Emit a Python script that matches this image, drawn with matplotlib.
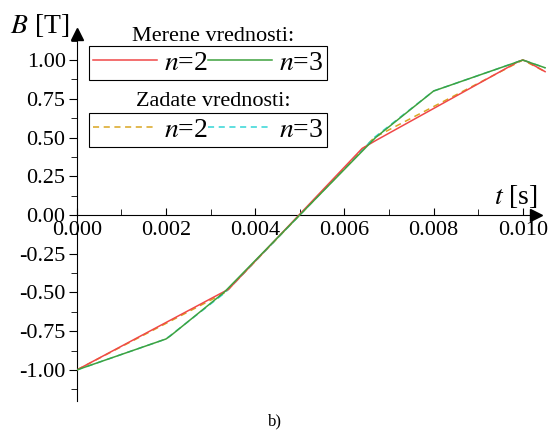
import matplotlib
matplotlib.use("Agg")
import matplotlib.pyplot as plt
from matplotlib.lines import Line2D
from matplotlib.ticker import MultipleLocator, FormatStrFormatter

plt.rcParams['font.family'] = ['Liberation Serif', 'DejaVu Serif']
plt.rcParams['mathtext.fontset'] = 'stix'

# measured values (Merene vrednosti)
t_meas_n2 = [0.0, 0.0032, 0.0034, 0.0064, 0.0067, 0.0099, 0.0100, 0.0101, 0.0105]
B_meas_n2 = [-1.0, -0.51, -0.48, 0.43, 0.48, 0.99, 1.0, 0.99, 0.925]
t_meas_n3 = [0.0, 0.0020, 0.0021, 0.0033, 0.0050, 0.0067, 0.0080, 0.0100, 0.0105]
B_meas_n3 = [-1.0, -0.80, -0.78, -0.50, 0.0, 0.50, 0.80, 1.0, 0.95]

# set values (Zadate vrednosti)
t_set_n2 = [0.0, 0.00333, 0.00667, 0.0100, 0.0105]
B_set_n2 = [-1.0, -0.5, 0.5, 1.0, 0.925]
t_set_n3 = [0.0, 0.0020, 0.00333, 0.0050, 0.00667, 0.0080, 0.0100, 0.0105]
B_set_n3 = [-1.0, -0.80, -0.50, 0.0, 0.50, 0.80, 1.0, 0.95]

fig = plt.figure(figsize=(5.5, 4.32), dpi=100)
ax = fig.add_axes([0.1395, 0.0718, 0.8605, 0.861])

ax.plot(t_set_n2, B_set_n2, color='#daa520', lw=1.1, dashes=(4, 3), zorder=2)
ax.plot(t_set_n3, B_set_n3, color='#33d6d6', lw=1.1, dashes=(4, 3), zorder=2)
l_r, = ax.plot(t_meas_n2, B_meas_n2, color='#f04848', lw=1.1, zorder=3)
l_g, = ax.plot(t_meas_n3, B_meas_n3, color='#3fa23f', lw=1.1, zorder=3)

ax.set_xlim(0, 0.01061)
ax.set_ylim(-1.2, 1.2)

# axes through the origin, with arrows
for s in ['top', 'right']:
    ax.spines[s].set_visible(False)
ax.spines['bottom'].set_position(('data', 0))
ax.spines['bottom'].set_bounds(0, 0.0103)
ax.spines['left'].set_bounds(-1.2, 1.17)
ax.plot(0.0103, 0, marker='>', color='k', ms=8, clip_on=False)
ax.plot(0, 1.17, marker='^', color='k', ms=8, clip_on=False)

ax.xaxis.set_major_locator(MultipleLocator(0.002))
ax.xaxis.set_minor_locator(MultipleLocator(0.001))
ax.xaxis.set_major_formatter(FormatStrFormatter('%.3f'))
ax.yaxis.set_major_locator(MultipleLocator(0.25))
ax.yaxis.set_minor_locator(MultipleLocator(0.125))
ax.yaxis.set_major_formatter(FormatStrFormatter('%.2f'))
ax.tick_params(axis='x', which='both', direction='in', labelsize=16, pad=4)
ax.tick_params(axis='x', which='major', length=5)
ax.tick_params(axis='x', which='minor', length=4)
ax.tick_params(axis='y', which='both', direction='out', labelsize=16, pad=2)
ax.tick_params(axis='y', which='major', length=6)
ax.tick_params(axis='y', which='minor', length=4)

fig.text(0.018, 0.942, r'$B$ [T]', fontsize=20, va='center', ha='left')
fig.text(0.977, 0.545, r'$t$ [s]', fontsize=20, va='center', ha='right')
fig.text(0.5, 0.025, 'b)', fontsize=12, ha='center', va='center')

legend_kw = dict(ncol=2, fontsize=20, frameon=True, fancybox=False, framealpha=1,
                 edgecolor='black', handlelength=2.3, handletextpad=0.25,
                 columnspacing=0.0, borderpad=0.15, borderaxespad=0,
                 loc='upper left')
leg1 = ax.legend([l_r, l_g], [r'$n$=2', r'$n$=3'],
                 bbox_to_anchor=(0.026, 0.954), **legend_kw)
leg1.get_frame().set_linewidth(0.8)
ax.add_artist(leg1)

h_o = Line2D([], [], color='#daa520', lw=1.1, dashes=(4, 3))
h_c = Line2D([], [], color='#33d6d6', lw=1.1, dashes=(4, 3))
leg2 = ax.legend([h_o, h_c], [r'$n$=2', r'$n$=3'],
                 bbox_to_anchor=(0.026, 0.774), **legend_kw)
leg2.get_frame().set_linewidth(0.8)

ax.text(0.288, 0.98, 'Merene vrednosti:', transform=ax.transAxes,
        fontsize=16, ha='center', va='center')
ax.text(0.288, 0.805, 'Zadate vrednosti:', transform=ax.transAxes,
        fontsize=16, ha='center', va='center')

fig.savefig('out.png', dpi=100)
